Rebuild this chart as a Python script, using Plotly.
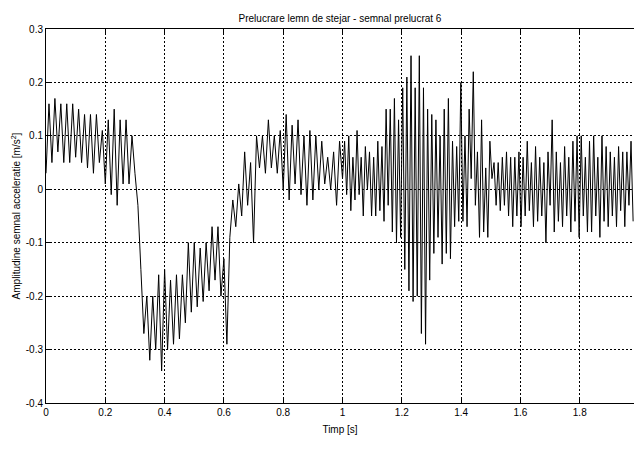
import numpy as np
import plotly.graph_objects as go

# --- data ---
# segment 1: samples every 0.01 s from t = 0.00 to 0.99
seg1_start, seg1_step = 0.0, 0.01
seg1_values = [
    0.03, 0.16, 0.05, 0.17, 0.07, 0.16, 0.05, 0.16, 0.05, 0.16,
    0.06, 0.15, 0.05, 0.14, 0.04, 0.14, 0.03, 0.14, 0.05, 0.11,
    0.01, 0.13, -0.01, 0.15, -0.03, 0.13, 0.01, 0.13, 0.01, 0.10,
    0.03, -0.03, -0.15, -0.27, -0.20, -0.32, -0.20, -0.30, -0.16, -0.34,
    -0.15, -0.30, -0.17, -0.29, -0.16, -0.28, -0.16, -0.25, -0.10, -0.23,
    -0.10, -0.22, -0.11, -0.21, -0.10, -0.19, -0.07, -0.17, -0.07, -0.20,
    -0.13, -0.29, -0.09, -0.02, -0.07, 0.01, -0.05, 0.07, -0.03, 0.05,
    -0.10, 0.10, 0.04, 0.10, 0.03, 0.13, 0.04, 0.10, 0.03, 0.11,
    0.00, 0.14, -0.02, 0.12, 0.01, 0.13, -0.01, 0.10, -0.03, 0.11,
    -0.02, 0.10, 0.00, 0.09, 0.01, 0.06, 0.00, 0.07, -0.03, 0.09,
]
# segment 2: samples every 0.007 s from t = 1.00 to 1.98
seg2_start, seg2_step = 1.0, 0.007
seg2_values = [
    0.02, 0.09, -0.01, 0.10, -0.04, 0.06, -0.02, 0.11, -0.01, 0.06, -0.05, 0.08, 0.00, 0.07, -0.05,
    0.06, -0.05, 0.09, -0.04, 0.08, -0.06, 0.15,
    -0.03, 0.15, -0.08, 0.17, -0.10, 0.13, -0.09,
    0.19, -0.15, 0.21, -0.19, 0.25, -0.21, 0.19,
    -0.20, 0.25, -0.27, 0.19, -0.29, 0.15, -0.17,
    0.14, -0.12, 0.13, -0.09, 0.10, -0.14, 0.15,
    -0.12, 0.17, -0.13, 0.09, -0.07, 0.08, -0.06,
    0.20, -0.06, 0.10, -0.07, 0.15, 0.02, 0.22,
    -0.03, 0.07, -0.09, 0.13, -0.08, 0.04, -0.09,
    0.09, 0.02, 0.05, -0.03, 0.05, -0.04, 0.06,
    -0.03, 0.07, -0.05, 0.06, -0.07, 0.06, -0.05,
    0.07, -0.07, 0.06, -0.05, 0.09, -0.04, 0.05,
    -0.07, 0.08, -0.06, 0.06, -0.05, 0.05, -0.10,
    0.07, -0.03, 0.13, -0.08, 0.07, -0.06, 0.05,
    -0.07, 0.08, -0.05, 0.06, -0.08, 0.09, -0.06,
    0.10, -0.09, 0.10, -0.05, 0.06, -0.08, 0.09,
    -0.08, 0.10, -0.05, 0.06, -0.09, 0.10, -0.06,
    0.08, -0.07, 0.07, -0.05, 0.06, -0.07, 0.08,
    -0.04, 0.07, -0.07, 0.07, -0.03, 0.09, -0.06,
]
x_tick_vals = [0, 0.2, 0.4, 0.6, 0.8, 1.0, 1.2, 1.4, 1.6, 1.8]
x_tick_text = ["0", "0.2", "0.4", "0.6", "0.8", "1", "1.2", "1.4", "1.6", "1.8"]
y_tick_vals = [0.3, 0.2, 0.1, 0, -0.1, -0.2, -0.3, -0.4]
y_tick_text = ["0.3", "0.2", "0.1", "0", "-0.1", "-0.2", "-0.3", "-0.4"]

t1 = seg1_start + seg1_step * np.arange(len(seg1_values))
t2 = seg2_start + seg2_step * np.arange(len(seg2_values))
t = np.concatenate([t1, t2])
y = np.concatenate([seg1_values, seg2_values])

FONT = "Liberation Sans, Arial, sans-serif"
L, R, T, B = 46, 0, 29, 52

fig = go.Figure(go.Scatter(x=t, y=y, mode="lines",
                           line=dict(color="black", width=1),
                           hoverinfo="skip"))

axis_common = dict(
    showline=True, linecolor="black", linewidth=1,
    ticks="inside", ticklen=5, tickcolor="black", tickwidth=1,
    showgrid=True, gridcolor="black", gridwidth=1, griddash="2px,2px",
    zeroline=False, automargin=False,
    tickfont=dict(family=FONT, size=10, color="black"),
)

fig.update_layout(
    width=634, height=455,
    margin=dict(l=L, r=R, t=T, b=B, autoexpand=False),
    paper_bgcolor="white", plot_bgcolor="white",
    showlegend=False,
    font=dict(family=FONT, size=10, color="black"),
    title=dict(text="Prelucrare lemn de stejar - semnal prelucrat 6",
               x=(L + 634 - R) / 2 / 634, xanchor="center",
               y=1 - 18 / 455, yanchor="middle",
               font=dict(family=FONT, size=10, color="black")),
    xaxis=dict(axis_common, range=[0, 1.983], mirror="ticks",
               tickvals=x_tick_vals, ticktext=x_tick_text,
               title=dict(text="Timp [s]", standoff=8,
                          font=dict(family=FONT, size=10, color="black"))),
    yaxis=dict(axis_common, range=[-0.4, 0.3], mirror=False,
               tickvals=y_tick_vals, ticktext=y_tick_text,
               title=dict(text="Amplitudine semnal acceleratie [m/s<sup>2</sup>]",
                          standoff=3,
                          font=dict(family=FONT, size=10, color="black"))),
)

fig.write_html(
    "out.html",
    config={"displayModeBar": False},
    post_script="document.body.style.margin='0';document.body.style.overflow='hidden';",
)
